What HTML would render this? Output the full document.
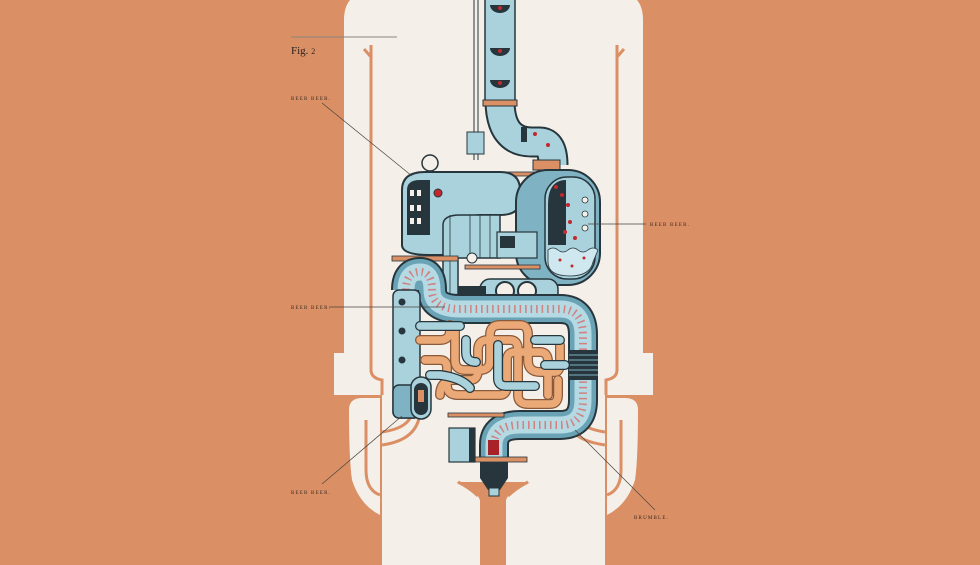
<!DOCTYPE html>
<html><head><meta charset="utf-8"><style>
html,body{margin:0;padding:0;background:#db8f64;}
svg{display:block}
.lbl{font-family:"Liberation Serif",serif;font-size:5px;letter-spacing:1.2px;fill:#3a2a22}
</style></head><body>
<svg width="980" height="565" viewBox="0 0 980 565" xmlns="http://www.w3.org/2000/svg">
<rect width="980" height="565" fill="#db8f64"/>
<g fill="#f4efe9">
<path d="M344 395 L344 20 Q344 -8 372 -8 L615 -8 Q643 -8 643 20 L643 395 Z"/>
<rect x="334" y="353" width="319" height="42"/>
<rect x="382" y="390" width="223" height="175"/>
<path d="M349 410 Q349 398 362 398 L380 398 L380 515 Q360 505 352 480 Q349 460 349 410Z"/>
<path d="M638 410 Q638 398 625 398 L607 398 L607 515 Q627 505 635 480 Q638 460 638 410Z"/>
</g>
<path d="M456 482 Q474 486 480 500 L480 565 L506 565 L506 500 Q512 486 530 482 Z" fill="#db8f64"/>
<g fill="none" stroke="#db8f64" stroke-width="3">
<path d="M371 45 L371 370 Q371 378 382 380 L382 395"/>
<path d="M617 45 L617 370 Q617 378 606 380 L606 395"/>
<path d="M364 49 L371 57"/><path d="M624 49 L617 57"/>
<path d="M366 420 L366 470 Q366 490 380 495"/>
<path d="M621 420 L621 470 Q621 490 607 495"/>
<path d="M412 412 Q410 428 382 432" /><path d="M420 412 Q418 440 382 445"/>
<path d="M575 412 Q577 428 605 432"/><path d="M568 420 Q570 440 605 445"/>
<path d="M458 482 Q470 488 478 496"/><path d="M528 482 Q516 488 508 496"/>
</g>
<line x1="291" y1="37" x2="397" y2="37" stroke="#8a8580" stroke-width="1"/>
<text x="291" y="54" font-family="Liberation Serif,serif" font-size="11" fill="#2a2420">Fig. <tspan font-size="8">2</tspan></text>
<!-- ladder -->
<g stroke="#26363c" stroke-width="1"><line x1="474" y1="0" x2="474" y2="160"/><line x1="478" y1="0" x2="478" y2="160"/></g>
<rect x="467" y="132" width="17" height="22" fill="#a9d2dd" stroke="#26363c"/>
<!-- esophagus -->
<path d="M500 100 Q500 142 532 142 L540 142 Q553 142 553 165" fill="none" stroke="#26363c" stroke-width="31"/>
<path d="M500 100 Q500 142 532 142 L540 142 Q553 142 553 165" fill="none" stroke="#a9d2dd" stroke-width="27"/>
<rect x="485" y="-5" width="30" height="110" fill="#a9d2dd" stroke="#26363c" stroke-width="1.5"/>
<rect x="483" y="100" width="34" height="6" fill="#db8f64" stroke="#26363c"/>
<rect x="533" y="160" width="27" height="10" fill="#db8f64" stroke="#26363c"/>
<g fill="#26363c"><path d="M490 5 h20 a10 8 0 0 1 -20 0z"/><path d="M490 48 h20 a10 8 0 0 1 -20 0z"/><path d="M490 80 h20 a10 8 0 0 1 -20 0z"/><rect x="521" y="127" width="6" height="15"/></g>
<g fill="#c2282c"><circle cx="500" cy="8" r="2"/><circle cx="500" cy="51" r="2"/><circle cx="500" cy="83" r="2"/><circle cx="535" cy="134" r="2"/><circle cx="548" cy="145" r="2"/></g>
<rect x="465" y="172" width="70" height="4" fill="#db8f64" stroke="#26363c" stroke-width="0.8"/>
<circle cx="430" cy="163" r="8" fill="#f4efe9" stroke="#26363c" stroke-width="1.5"/>
<!-- lab chamber -->
<path d="M402 245 L402 190 Q402 172 425 172 L500 172 Q520 172 520 190 L520 200 Q520 215 500 215 L480 215 Q462 215 462 235 L462 255 L430 255 Q402 255 402 245Z" fill="#a9d2dd" stroke="#26363c" stroke-width="2"/>
<path d="M407 190 Q407 180 420 180 L430 180 L430 235 L407 235Z" fill="#26363c"/>
<g fill="#f4efe9"><rect x="410" y="190" width="4" height="6"/><rect x="417" y="190" width="4" height="6"/><rect x="410" y="205" width="4" height="6"/><rect x="417" y="205" width="4" height="6"/><rect x="410" y="218" width="4" height="6"/><rect x="417" y="218" width="4" height="6"/></g>
<circle cx="438" cy="193" r="4" fill="#c2282c" stroke="#26363c"/>
<path d="M443 225 Q443 215 460 215 L500 215 L500 258 L458 258 L458 305 L443 305Z" fill="#a9d2dd" stroke="#26363c" stroke-width="1.5"/>
<g stroke="#26363c" stroke-width="0.8" fill="none"><path d="M450 215 V305"/><path d="M470 215 V258"/><path d="M480 215 V258"/><path d="M490 215 V258"/></g>
<path d="M442 308 L460 308 L460 318 L453 326 L449 326 L442 318Z" fill="#c9774a" stroke="#26363c"/>
<!-- stomach -->
<rect x="516" y="170" width="84" height="115" rx="32" fill="#7fb3c4" stroke="#26363c" stroke-width="2"/>
<rect x="545" y="177" width="50" height="102" rx="22" fill="#a9d2dd" stroke="#26363c" stroke-width="1.5"/>
<path d="M548 205 Q548 180 566 180 L566 245 L548 245Z" fill="#26363c"/>
<path d="M548 250 q5 -4 10 0 t10 0 t10 0 t10 0 t10 0 L593 262 Q590 276 570 276 Q548 276 548 262Z" fill="#cfe7ee" stroke="#26363c" stroke-width="0.8"/>
<g fill="#c2282c"><circle cx="556" cy="187" r="2"/><circle cx="562" cy="195" r="2"/><circle cx="568" cy="205" r="2"/><circle cx="570" cy="222" r="2"/><circle cx="575" cy="238" r="2"/><circle cx="565" cy="232" r="2"/><circle cx="560" cy="260" r="1.5"/><circle cx="572" cy="266" r="1.5"/><circle cx="584" cy="258" r="1.5"/></g>
<g fill="#f4efe9" stroke="#26363c" stroke-width="0.8"><circle cx="585" cy="200" r="3"/><circle cx="585" cy="214" r="3"/><circle cx="585" cy="228" r="3"/></g>
<rect x="497" y="232" width="40" height="26" fill="#a9d2dd" stroke="#26363c" stroke-width="1.2"/>
<rect x="500" y="236" width="15" height="12" fill="#26363c"/>
<rect x="392" y="256" width="66" height="5" fill="#db8f64" stroke="#26363c" stroke-width="0.8"/>
<rect x="465" y="265" width="75" height="4" fill="#db8f64" stroke="#26363c" stroke-width="0.8"/>
<circle cx="472" cy="258" r="5" fill="#f4efe9" stroke="#26363c"/>
<rect x="480" y="279" width="78" height="24" rx="10" fill="#a9d2dd" stroke="#26363c" stroke-width="1.5"/>
<rect x="458" y="286" width="28" height="8" fill="#26363c"/>
<circle cx="505" cy="291" r="9" fill="#f4efe9" stroke="#26363c" stroke-width="2"/>
<circle cx="527" cy="291" r="9" fill="#f4efe9" stroke="#26363c" stroke-width="2"/>
<!-- colon -->
<g fill="none">
<path id="c" d="M406 290 Q406 272 420 272 Q432 272 432 290 Q432 309 460 309 L560 309 Q583 309 583 335 L583 400 Q583 425 560 425 L520 425 Q494 425 494 445 L494 458" stroke="#26363c" stroke-width="30"/>
<path d="M406 290 Q406 272 420 272 Q432 272 432 290 Q432 309 460 309 L560 309 Q583 309 583 335 L583 400 Q583 425 560 425 L520 425 Q494 425 494 445 L494 458" stroke="#6aa3b6" stroke-width="26"/>
<path d="M406 290 Q406 272 420 272 Q432 272 432 290 Q432 309 460 309 L560 309 Q583 309 583 335 L583 400 Q583 425 560 425 L520 425 Q494 425 494 445 L494 458" stroke="#b5dae4" stroke-width="17"/>
<path d="M406 290 Q406 272 420 272 Q432 272 432 290 Q432 309 460 309 L560 309 Q583 309 583 335 L583 400 Q583 425 560 425 L520 425 Q494 425 494 445 L494 458" stroke="#d86a66" stroke-width="8" stroke-dasharray="1.5 4" opacity="0.8"/>
</g>
<rect x="569" y="350" width="29" height="30" fill="#26363c"/>
<g stroke="#7fb3c4" stroke-width="1"><line x1="569" y1="355" x2="598" y2="355"/><line x1="569" y1="360" x2="598" y2="360"/><line x1="569" y1="365" x2="598" y2="365"/><line x1="569" y1="370" x2="598" y2="370"/><line x1="569" y1="375" x2="598" y2="375"/></g>
<rect x="393" y="290" width="27" height="128" rx="6" fill="#a9d2dd" stroke="#26363c" stroke-width="1.5"/>
<rect x="393" y="385" width="27" height="33" rx="6" fill="#7fb3c4" stroke="#26363c" stroke-width="1.5"/>
<g fill="#26363c"><circle cx="402" cy="302" r="3.5"/><circle cx="402" cy="331" r="3.5"/><circle cx="402" cy="360" r="3.5"/></g>
<rect x="411" y="377" width="20" height="42" rx="10" fill="#a9d2dd" stroke="#26363c" stroke-width="1.5"/>
<rect x="414" y="383" width="14" height="32" rx="7" fill="#26363c"/>
<rect x="418" y="390" width="6" height="12" fill="#db8f64"/>
<!-- tangle -->
<g fill="none" stroke-linecap="round">
<g stroke="#8a5a3a" stroke-width="10">
<path d="M420 340 L440 340 Q450 340 450 330 L450 325 M455 330 L455 360 Q455 370 465 370 L480 370 Q490 370 490 360 L490 335 Q490 325 500 325 L520 325 Q528 325 528 335 L528 360 Q528 372 540 372 L555 372 Q560 372 560 362 L560 345"/>
<path d="M440 395 Q440 380 455 380 L470 380 Q478 380 478 370 L478 350 Q478 340 488 340 L510 340 Q518 340 518 350 L518 395 Q518 404 528 404 L550 404 Q558 404 558 395 L558 380"/>
<path d="M425 360 L440 360 Q447 360 447 368 L447 385 Q447 395 458 395 L500 395 Q507 395 507 385 L507 360 Q507 352 515 352 L540 352 Q548 352 548 362 L548 395"/>
</g>
<g stroke="#eaa977" stroke-width="7.5">
<path d="M420 340 L440 340 Q450 340 450 330 L450 325 M455 330 L455 360 Q455 370 465 370 L480 370 Q490 370 490 360 L490 335 Q490 325 500 325 L520 325 Q528 325 528 335 L528 360 Q528 372 540 372 L555 372 Q560 372 560 362 L560 345"/>
<path d="M440 395 Q440 380 455 380 L470 380 Q478 380 478 370 L478 350 Q478 340 488 340 L510 340 Q518 340 518 350 L518 395 Q518 404 528 404 L550 404 Q558 404 558 395 L558 380"/>
<path d="M425 360 L440 360 Q447 360 447 368 L447 385 Q447 395 458 395 L500 395 Q507 395 507 385 L507 360 Q507 352 515 352 L540 352 Q548 352 548 362 L548 395"/>
</g>
<g stroke="#26363c" stroke-width="10">
<path d="M420 326 L460 326 M466 340 L466 352 Q466 362 476 362 M498 345 L498 378 Q498 386 506 386 L535 386 M535 340 L560 340 M545 365 L565 365 M430 375 L440 375 Q462 378 470 388"/>
</g>
<g stroke="#a9d2dd" stroke-width="7.5">
<path d="M420 326 L460 326 M466 340 L466 352 Q466 362 476 362 M498 345 L498 378 Q498 386 506 386 L535 386 M535 340 L560 340 M545 365 L565 365 M430 375 L440 375 Q462 378 470 388"/>
</g>
</g>
<rect x="448" y="413" width="56" height="4" fill="#db8f64" stroke="#26363c" stroke-width="0.8"/>
<rect x="488" y="440" width="11" height="15" fill="#a92228"/>
<rect x="470" y="457" width="57" height="5" fill="#db8f64" stroke="#26363c" stroke-width="0.8"/>
<path d="M480 462 L508 462 L508 478 L500 490 L488 490 L480 478Z" fill="#26363c"/>
<rect x="489" y="488" width="10" height="8" fill="#a9d2dd" stroke="#26363c"/>
<rect x="449" y="428" width="26" height="34" fill="#a9d2dd" stroke="#26363c" stroke-width="1.2"/>
<rect x="469" y="428" width="6" height="34" fill="#26363c"/>
<g stroke="#4a4440" stroke-width="0.7">
<line x1="322" y1="103" x2="412" y2="176"/>
<line x1="588" y1="224" x2="646" y2="224"/>
<line x1="329" y1="307" x2="445" y2="307"/>
<line x1="322" y1="484" x2="402" y2="416"/>
<line x1="575" y1="430" x2="655" y2="510"/>
</g>
<text class="lbl" x="291" y="100">BEER BEER.</text>
<text class="lbl" x="650" y="226">BEER BEER.</text>
<text class="lbl" x="291" y="309">BEER BEER.</text>
<text class="lbl" x="291" y="494">BEER BEER.</text>
<text class="lbl" x="634" y="519">BRUMBLE.</text>
</svg>
</body></html>
